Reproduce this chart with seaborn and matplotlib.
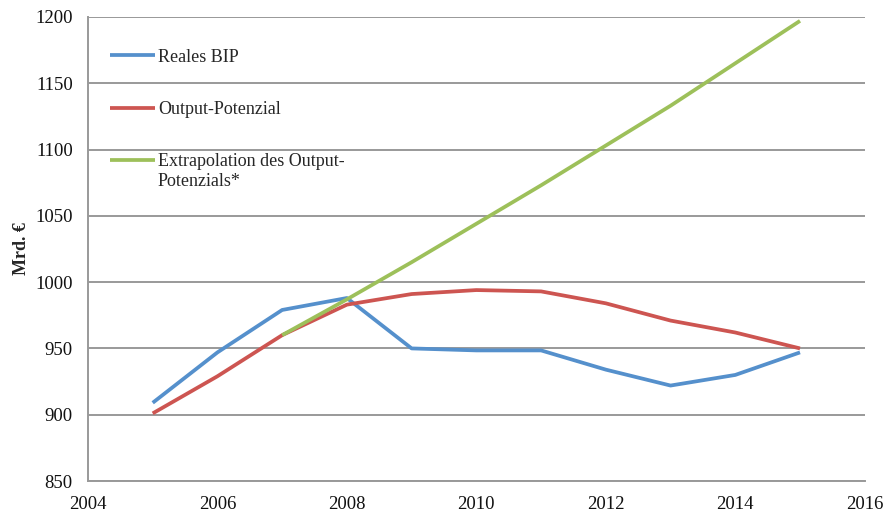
import numpy as np
import pandas as pd
import matplotlib
matplotlib.use("Agg")
import matplotlib.pyplot as plt
import seaborn as sns

years = [2005, 2006, 2007, 2008, 2009, 2010, 2011, 2012, 2013, 2014, 2015]
reales_bip = [909, 947, 979, 988, 950, 948.5, 948.5, 934, 922, 930, 947]
output_potenzial = [901, 929, 960, 983, 991, 994, 993, 984, 971, 962, 950]
extrap_years = [2007, 2008, 2009, 2010, 2011, 2012, 2013, 2014, 2015]
extrapolation = [960, 987, 1015, 1044, 1073, 1103, 1133, 1165, 1197]

series = ["Reales BIP", "Output-Potenzial", "Extrapolation des Output-Potenzials*"]
legend_lines = ["Reales BIP", "Output-Potenzial", "Extrapolation des Output-"]
legend_wrap = "Potenzials*"
colors = ["#5590CC", "#CD5551", "#9DC05A"]

df = pd.concat([
    pd.DataFrame({"Jahr": years, "Wert": reales_bip, "Reihe": series[0]}),
    pd.DataFrame({"Jahr": years, "Wert": output_potenzial, "Reihe": series[1]}),
    pd.DataFrame({"Jahr": extrap_years, "Wert": extrapolation, "Reihe": series[2]}),
])

sns.set_style("white")
plt.rcParams["font.family"] = ["Liberation Serif", "DejaVu Serif"]

fig = plt.figure(figsize=(8.86, 5.12), dpi=100)
ax = fig.add_axes([0.0993, 0.0605, 0.8767, 0.9065])

sns.lineplot(data=df, x="Jahr", y="Wert", hue="Reihe", palette=colors,
             hue_order=series, linewidth=2.7, ax=ax, legend=True,
             solid_capstyle="butt")

ax.set_xlim(2004, 2016)
ax.set_ylim(850, 1200)
ax.set_xticks(np.arange(2004, 2017, 2))
ax.set_yticks(np.arange(850, 1201, 50))
ax.yaxis.grid(True, color="#999999", linewidth=1.4)
ax.set_axisbelow(True)
ax.xaxis.grid(False)

for side in ["top", "right"]:
    ax.spines[side].set_visible(False)
for side in ["left", "bottom"]:
    ax.spines[side].set_color("#999999")
    ax.spines[side].set_linewidth(1.4)

ax.tick_params(axis="both", which="major", direction="out", length=5,
               width=1.2, color="#999999", labelsize=13.5, labelcolor="#111111")
ax.tick_params(axis="y", pad=6)
ax.tick_params(axis="x", pad=5.5)

ax.set_xlabel("")
ax.set_ylabel("Mrd. €", fontsize=13, fontweight="bold", labelpad=4)

handles, _ = ax.get_legend_handles_labels()
leg = ax.legend(handles, legend_lines, loc="upper left",
                bbox_to_anchor=(0.019, 0.947), frameon=False,
                fontsize=13, handlelength=2.5, handletextpad=0.15,
                labelspacing=1.95, borderaxespad=0)
for line in leg.get_lines():
    line.set_linewidth(2.7)

# second line of the wrapped third legend entry
fig.canvas.draw()
t3 = leg.get_texts()[2]
bb = t3.get_window_extent()
x0, y0 = fig.transFigure.inverted().transform((bb.x0, bb.y0 - 20))
fig.text(x0, y0, legend_wrap, fontsize=13, color=t3.get_color(),
         ha="left", va="bottom")

fig.savefig("out.png", dpi=100)
